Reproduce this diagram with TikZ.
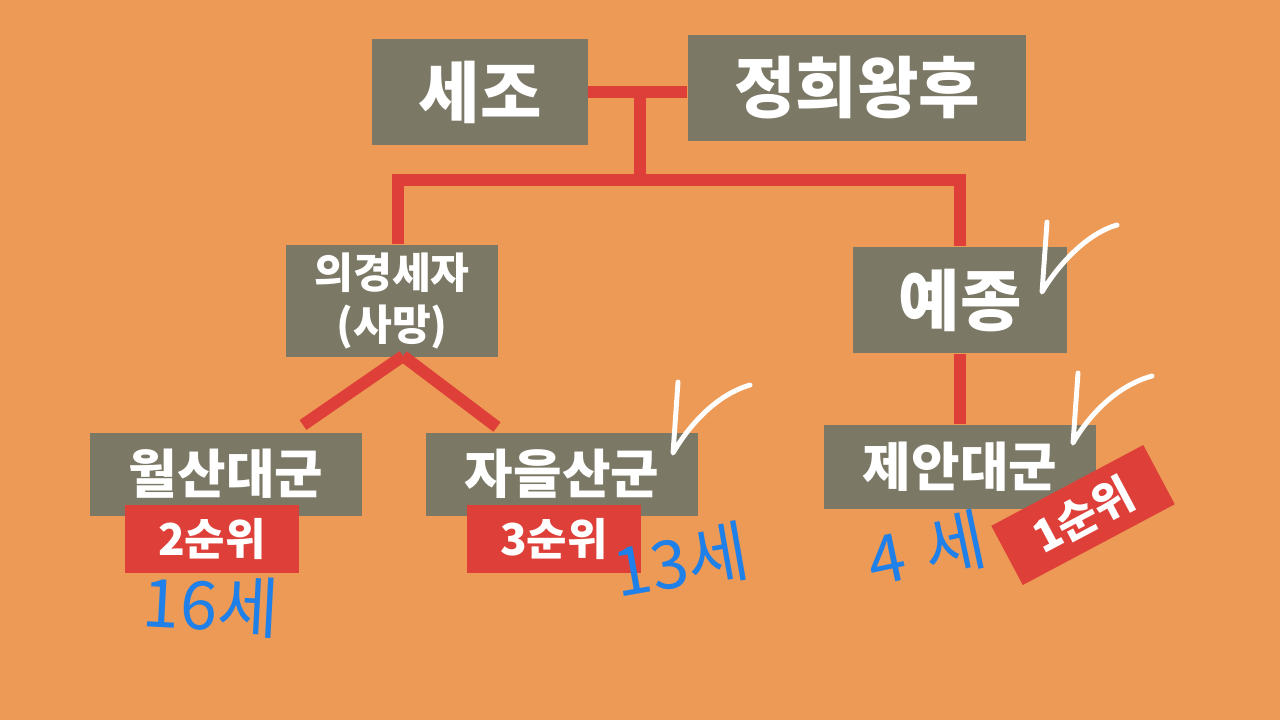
\documentclass[tikz,border=0pt]{standalone}
\usepackage{fontspec}
\newfontfamily\kr{Noto Sans CJK KR}
\definecolor{bg}{HTML}{EC9A55}
\definecolor{boxgray}{HTML}{7C7866}
\definecolor{rankred}{HTML}{DE4039}
\definecolor{pen}{HTML}{1E80E8}
\begin{document}
\begin{tikzpicture}[
  x=0.01cm, y=-0.01cm,
  box/.style={fill=boxgray,text=white,inner sep=0pt,font=\kr\bfseries},
  bigbox/.style={box,font=\kr\bfseries\fontsize{19}{21}\selectfont},
  midbox/.style={box,font=\kr\bfseries\fontsize{15}{17}\selectfont,minimum width=2.71cm,minimum height=0.83cm},
  rank/.style={fill=rankred,text=white,inner sep=0pt,font=\kr\bfseries\fontsize{12.5}{14}\selectfont,minimum width=1.73cm,minimum height=0.68cm},
  famline/.style={draw=rankred,line width=3.4pt},
  memo/.style={text=pen,inner sep=0pt,font=\kr\fontsize{19}{22}\selectfont},
  checkmark/.style={draw=white,line width=1.4pt,line cap=round,line join=round}
]
  \useasboundingbox (0,0) rectangle (1280,720);
  \fill[bg] (0,0) rectangle (1280,720);

  \node[bigbox,minimum width=2.15cm,minimum height=1.06cm] (sejo) at (480,92) {세조};
  \node[bigbox,minimum width=3.38cm,minimum height=1.05cm] (jeonghui) at (857,88) {정희왕후};
  \node[box,align=center,font=\kr\bfseries\fontsize{12}{15}\selectfont,
        minimum width=2.11cm,minimum height=1.12cm] (uigyeong) at (392,301) {의경세자\\(사망)};
  \node[bigbox,minimum width=2.13cm,minimum height=1.06cm] (yejong) at (960,300) {예종};
  \node[midbox] (wolsan) at (226,474) {월산대군};
  \node[midbox] (jaeul) at (562,474) {자을산군};
  \node[midbox,minimum height=0.84cm] (jean) at (960,467) {제안대군};

  \coordinate (couple) at (640,97);
  \coordinate (bar) at (640,180);
  \coordinate (fork) at (403,356);
  \coordinate (wolsanend) at (303,425);
  \coordinate (jaeulend) at (497,427);

  \draw[famline] (sejo.east) -- (sejo.east -| jeonghui.west);
  \draw[famline] (couple) -- (bar);
  \draw[famline] ([xshift=0.06cm]uigyeong.north) |- (bar) -| (yejong.north);
  \draw[famline] (fork) -- (wolsanend);
  \draw[famline] (fork) -- (jaeulend);
  \draw[famline] (yejong.south) -- (jean.north);

  \node[rank] (rank2) at (212,539) {2순위};
  \node[rank] (rank3) at (554,539) {3순위};
  \node[rank,rotate=28,minimum width=1.72cm,minimum height=0.67cm] (rank1) at (1083,515) {1순위};

  \node[memo,rotate=-3] (age16) at (211,605) {16세};
  \node[memo,rotate=10] (age13) at (681,561) {13세};
  \node[memo,rotate=12] (age4) at (926,550) {4\hspace{0.3em}세};

  \draw[checkmark] (1047,222) -- (1042,292) .. controls (1056,268) and (1085,234) .. (1117,225);
  \draw[checkmark] (678,382) -- (673,453) .. controls (685,432) and (712,396) .. (750,385);
  \draw[checkmark] (1078,373) -- (1073,443) .. controls (1087,418) and (1115,386) .. (1152,376);
\end{tikzpicture}
\end{document}
